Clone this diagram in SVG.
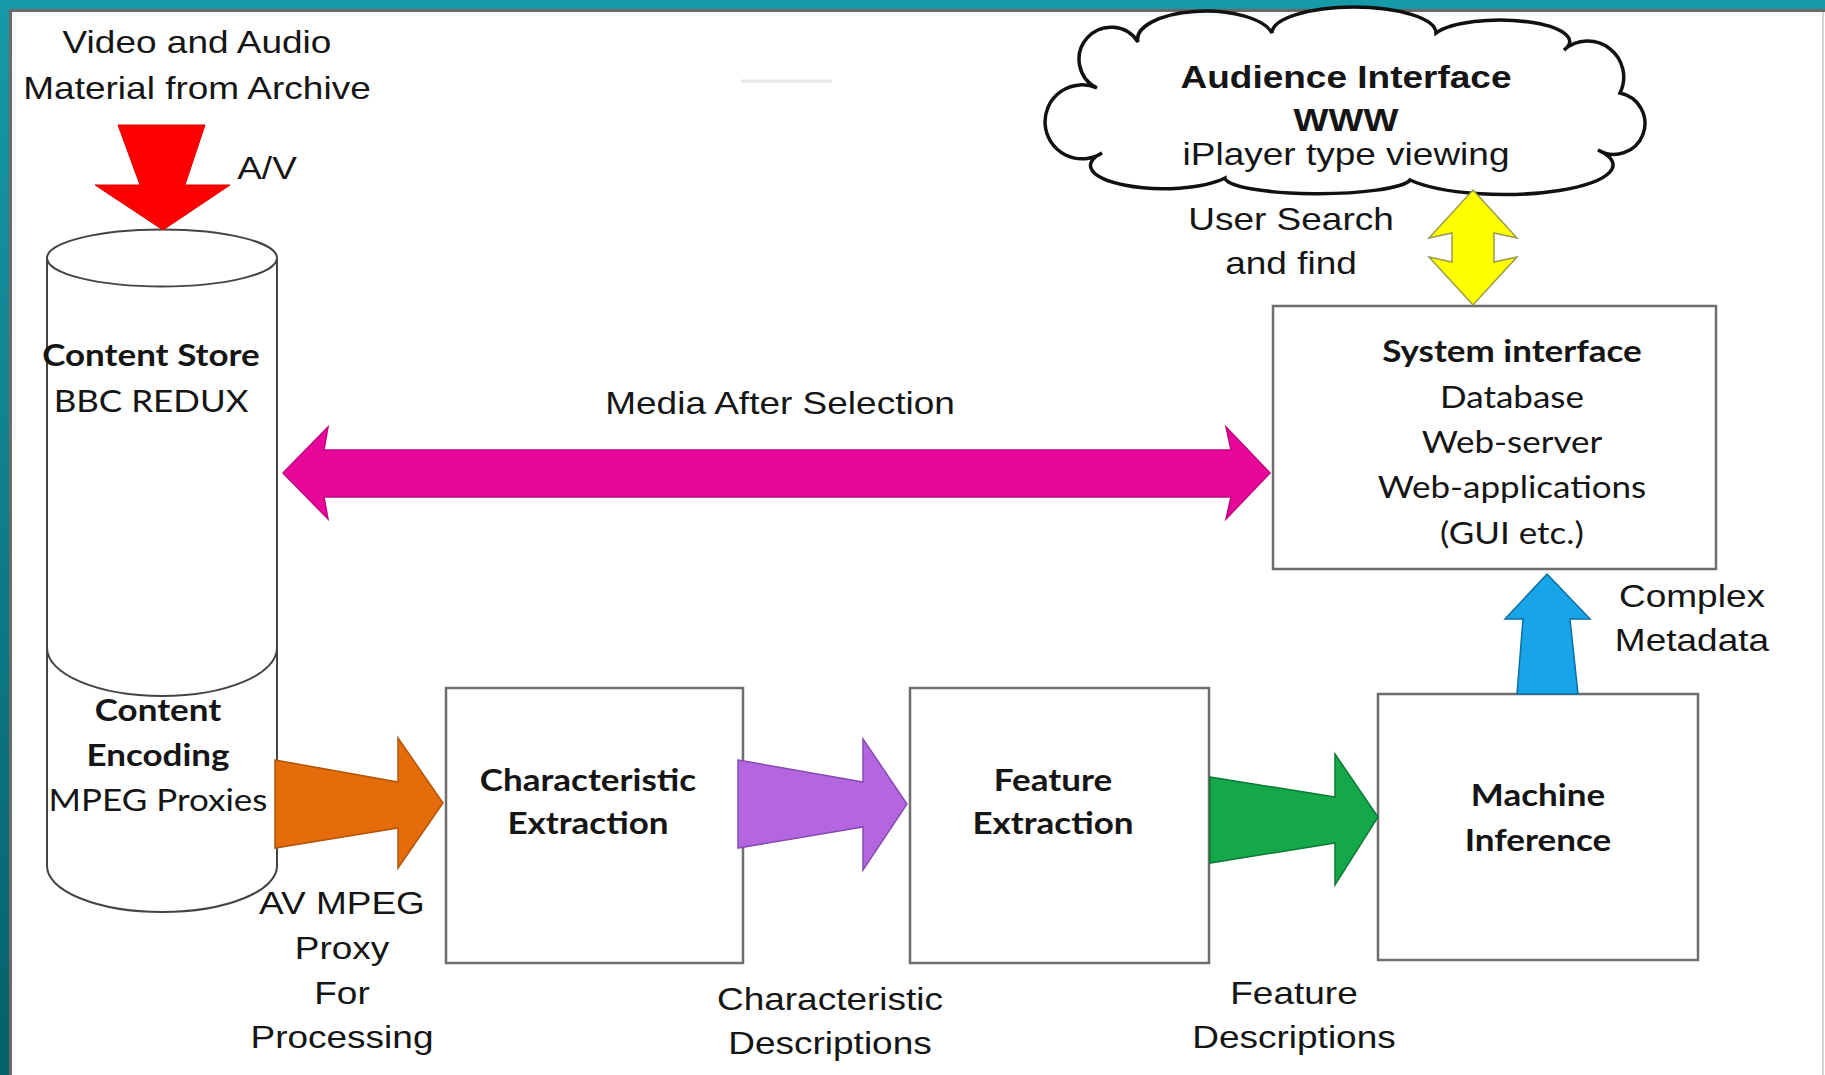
<svg xmlns="http://www.w3.org/2000/svg" width="1825" height="1075" viewBox="0 0 1825 1075">
<defs>
<linearGradient id="teal" x1="0" y1="0" x2="0" y2="1">
<stop offset="0" stop-color="#169aa7"/>
<stop offset="1" stop-color="#05606a"/>
</linearGradient>
</defs>
<style>
text { text-anchor: middle; fill: #151515; transform-box: fill-box; transform-origin: center; transform: scaleY(0.86); }
.a { font-family: "Liberation Sans", Arial, sans-serif; font-size: 37px; }
.c { font-family: Lato, "Open Sans", sans-serif; font-size: 35px; }
.b { font-weight: bold; }
.box { fill: #fff; stroke: #6e6e6e; stroke-width: 2.5; }
.shape { fill: #fff; stroke: #444; stroke-width: 2; }
</style>
<rect width="1825" height="1075" fill="url(#teal)"/>
<rect x="9" y="9" width="1816" height="1066" fill="#fff"/>
<path d="M10.5,1075 V10.5 H1825" fill="none" stroke="#6a6a6a" stroke-width="3"/>
<line x1="1823" y1="12" x2="1823" y2="1075" stroke="#d4d4d4" stroke-width="2"/>
<line x1="741" y1="81" x2="832" y2="81" stroke="#e6e6e6" stroke-width="3"/>

<g id="archive-label">
<text class="a" x="197" y="55">Video and Audio</text>
<text class="a" x="197" y="101">Material from Archive</text>
</g>

<g id="content-store">
<path class="shape" d="M47,258 L47,866 A115,46 0 0 0 277,866 L277,258"/>
<ellipse class="shape" cx="162" cy="258" rx="115" ry="28.5"/>
<path class="shape" fill="none" d="M47,648 A115,48 0 0 0 277,648"/>
<text class="c b" x="151" y="368">Content Store</text>
<text class="c" x="151" y="414">BBC REDUX</text>
<text class="c b" x="158" y="723">Content</text>
<text class="c b" x="158" y="768">Encoding</text>
<text class="c" x="158" y="813">MPEG Proxies</text>
</g>

<g id="audience-interface">
<path fill="#fff" stroke="#111" stroke-width="3.5" d="M1097,88 A32,32 0 1 1 1138,42 A68,28 0 0 1 1272,33 A82,26 0 0 1 1436,33 A65,20 0 0 1 1564,50 A36,36 0 0 1 1620,93 A31,31 0 1 1 1598,150 A96,26 0 0 1 1410,180 A93,16 0 0 1 1225,178 A63,20 0 0 1 1102,153 A37,37 0 1 1 1097,88 Z"/>
<text class="a b" x="1346" y="90">Audience Interface</text>
<text class="a b" x="1346" y="133">WWW</text>
<text class="a" x="1346" y="167">iPlayer type viewing</text>
</g>

<g id="system-interface">
<rect class="box" x="1273" y="306" width="443" height="263"/>
<text class="c b" x="1512" y="364">System interface</text>
<text class="c" x="1512" y="410">Database</text>
<text class="c" x="1512" y="455">Web-server</text>
<text class="c" x="1512" y="500">Web-applications</text>
<text class="c" x="1512" y="546">(GUI etc.)</text>
</g>

<g id="characteristic-extraction">
<rect class="box" x="446" y="688" width="297" height="275"/>
<text class="c b" x="588" y="793">Characteristic</text>
<text class="c b" x="588" y="836">Extraction</text>
</g>

<g id="feature-extraction">
<rect class="box" x="910" y="688" width="299" height="275"/>
<text class="c b" x="1053" y="793">Feature</text>
<text class="c b" x="1053" y="836">Extraction</text>
</g>

<g id="machine-inference">
<rect class="box" x="1378" y="694" width="320" height="266"/>
<text class="c b" x="1538" y="808">Machine</text>
<text class="c b" x="1538" y="853">Inference</text>
</g>

<g id="connectors">
<polygon fill="#ff0000" stroke="#e00000" stroke-width="1" points="118,125 205,125 185,185 230,185 163,230 95,185 140,185"/>
<text class="a" x="267" y="181">A/V</text>

<polygon fill="#e8079a" stroke="#c0067f" stroke-width="1.5" points="283,473 328,427 324,450 1231,450 1226,427 1270,473 1226,519 1231,497 324,497 328,519"/>
<text class="a" x="780" y="416">Media After Selection</text>

<polygon fill="#ffff00" stroke="#9a9a50" stroke-width="1.5" points="1473,190 1517,238 1494,233 1494,262 1517,257 1473,305 1429,257 1452,262 1452,233 1429,238"/>
<text class="a" x="1291" y="232">User Search</text>
<text class="a" x="1291" y="276">and find</text>

<polygon fill="#18a4e8" stroke="#0d6fa0" stroke-width="1.5" points="1547,574 1590,619 1570,619 1578,694 1517,694 1523,619 1505,619"/>
<text class="a" x="1692" y="609">Complex</text>
<text class="a" x="1692" y="653">Metadata</text>

<polygon fill="#e46c0a" stroke="#b45508" stroke-width="1.5" points="275,760 398,782 398,738 443,803 398,868 398,828 275,848"/>
<text class="a" x="342" y="916">AV MPEG</text>
<text class="a" x="342" y="961">Proxy</text>
<text class="a" x="342" y="1006">For</text>
<text class="a" x="342" y="1050">Processing</text>

<polygon fill="#b366e0" stroke="#8a4bb0" stroke-width="1.5" points="738,760 863,782 863,739 907,804 863,870 863,827 738,848"/>
<text class="a" x="830" y="1012">Characteristic</text>
<text class="a" x="830" y="1056">Descriptions</text>

<polygon fill="#14a84b" stroke="#0c7a35" stroke-width="1.5" points="1210,777 1335,797 1335,754 1378,817 1335,885 1335,843 1210,863"/>
<text class="a" x="1294" y="1006">Feature</text>
<text class="a" x="1294" y="1050">Descriptions</text>
</g>
</svg>
